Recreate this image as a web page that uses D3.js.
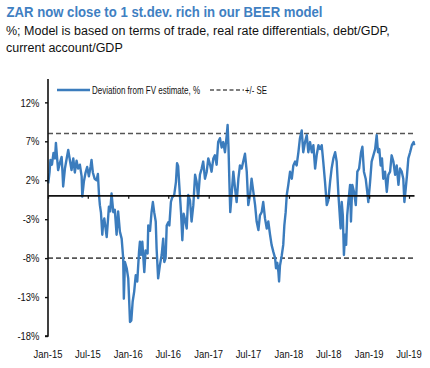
<!DOCTYPE html>
<html>
<head>
<meta charset="utf-8">
<script src="https://cdn.jsdelivr.net/npm/d3@7"></script>
<style>
  body { margin: 0; background: #fff; }
  .title { font-family: "Liberation Sans", Arial, sans-serif; font-weight: bold; font-size: 15.5px; fill: #3f80c2; }
  .subtitle { font-family: "Liberation Sans", Arial, sans-serif; font-size: 12.5px; fill: #111; }
  .axis_text { font-family: "Liberation Sans", Arial, sans-serif; font-size: 11.5px; fill: #111; }
</style>
</head>
<body>
<svg id="chart" width="430" height="368"></svg>
<script>
// values
var obs_dates = [
  "2015-01-02","2015-01-08","2015-01-12","2015-01-19","2015-01-26","2015-02-02","2015-02-06","2015-02-11","2015-02-16","2015-02-24",
  "2015-03-04","2015-03-08","2015-03-11","2015-03-19","2015-03-27","2015-04-03","2015-04-11","2015-04-18","2015-04-26","2015-05-03",
  "2015-05-11","2015-05-18","2015-05-26","2015-06-03","2015-06-06","2015-06-13","2015-06-21","2015-06-28","2015-07-06","2015-07-14",
  "2015-07-18","2015-07-24","2015-08-01","2015-08-10","2015-08-16","2015-08-21","2015-08-25","2015-08-30","2015-09-05","2015-09-09",
  "2015-09-14","2015-09-19","2015-09-25","2015-10-01","2015-10-05","2015-10-11","2015-10-17","2015-10-25","2015-11-01","2015-11-09",
  "2015-11-16","2015-11-24","2015-12-02","2015-12-09","2015-12-12","2015-12-17","2015-12-25","2016-01-01","2016-01-06","2016-01-09",
  "2016-01-15","2016-01-21","2016-01-28","2016-02-04","2016-02-11","2016-02-19","2016-02-23","2016-02-28","2016-03-05","2016-03-14",
  "2016-03-20","2016-03-29","2016-04-01","2016-04-09","2016-04-16","2016-04-22","2016-04-28","2016-05-05","2016-05-09","2016-05-16",
  "2016-05-24","2016-06-01","2016-06-08","2016-06-13","2016-06-19","2016-06-24","2016-07-01","2016-07-06","2016-07-13","2016-07-19",
  "2016-07-28","2016-08-05","2016-08-10","2016-08-15","2016-08-20","2016-08-28","2016-09-03","2016-09-09","2016-09-15","2016-09-23",
  "2016-09-30","2016-10-08","2016-10-15","2016-10-23","2016-10-31","2016-11-07","2016-11-14","2016-11-22","2016-11-30","2016-12-07",
  "2016-12-15","2016-12-23","2016-12-30","2017-01-07","2017-01-14","2017-01-22","2017-01-29","2017-02-06","2017-02-13","2017-02-21",
  "2017-03-01","2017-03-08","2017-03-16","2017-03-24","2017-03-28","2017-04-01","2017-04-05","2017-04-09","2017-04-15","2017-04-23",
  "2017-05-01","2017-05-08","2017-05-16","2017-05-23","2017-05-31","2017-06-07","2017-06-15","2017-06-23","2017-06-30","2017-07-08",
  "2017-07-15","2017-07-23","2017-07-31","2017-08-07","2017-08-15","2017-08-22","2017-08-30","2017-09-06","2017-09-14","2017-09-22",
  "2017-09-29","2017-10-07","2017-10-14","2017-10-22","2017-10-30","2017-11-03","2017-11-09","2017-11-14","2017-11-17","2017-11-21",
  "2017-11-29","2017-12-06","2017-12-11","2017-12-17","2017-12-22","2017-12-29","2018-01-06","2018-01-14","2018-01-21","2018-01-29",
  "2018-02-05","2018-02-13","2018-02-20","2018-02-28","2018-03-07","2018-03-15","2018-03-23","2018-03-30","2018-04-07","2018-04-15",
  "2018-04-22","2018-04-30","2018-05-07","2018-05-15","2018-05-22","2018-05-30","2018-06-06","2018-06-14","2018-06-22","2018-06-29",
  "2018-07-07","2018-07-14","2018-07-22","2018-07-30","2018-08-06","2018-08-14","2018-08-18","2018-08-24","2018-08-29","2018-09-03",
  "2018-09-08","2018-09-13","2018-09-18","2018-09-23","2018-09-28","2018-10-06","2018-10-10","2018-10-16","2018-10-24","2018-11-01",
  "2018-11-08","2018-11-16","2018-11-25","2018-12-01","2018-12-08","2018-12-16","2018-12-23","2018-12-28","2019-01-05","2019-01-12",
  "2019-01-20","2019-01-28","2019-02-04","2019-02-10","2019-02-16","2019-02-22","2019-02-28","2019-03-06","2019-03-14","2019-03-22",
  "2019-03-29","2019-04-06","2019-04-13","2019-04-21","2019-04-29","2019-05-06","2019-05-14","2019-05-21","2019-05-29","2019-06-05",
  "2019-06-10","2019-06-16","2019-06-22","2019-06-28","2019-07-06","2019-07-14","2019-07-22","2019-07-25"
];
var deviation = [
  1.6, 3.0, 4.6, 4.0, 5.5, 4.8, 6.8, 5.0, 3.3, 4.2,
  5.0, 3.0, 1.2, 3.5, 4.8, 5.9, 4.5, 3.3, 4.8, 3.0,
  4.5, 3.5, 4.0, 2.5, -0.1, 1.8, 3.0, 3.7, 2.5, 3.8,
  4.6, 3.0, 2.2, 2.0, 2.8, 0.1, -1.2, -2.2, -5.0, -3.5,
  -2.9, -4.0, -5.3, -3.0, -1.4, -2.0, 0.3, -2.1, -1.8, -5.0,
  -2.0, -4.6, -5.5, -8.0, -13.2, -8.5, -9.3, -10.6, -14.0, -16.2,
  -16.0, -13.6, -12.3, -10.2, -11.0, -7.2, -5.9, -7.6, -5.9, -9.8,
  -7.0, -7.4, -3.8, -4.5, -2.1, -0.8, -2.1, -3.3, -6.8, -10.6,
  -8.9, -7.6, -5.5, -8.5, -8.0, -3.8, -3.4, -3.8, -0.8, -0.2,
  0.1, 1.8, 4.2, 3.8, 1.4, -2.1, -5.7, -2.3, -3.0, -4.2,
  0.1, -0.6, -3.3, -1.2, 2.7, 1.8, -0.3, 2.7, 3.5, 4.4,
  2.2, 3.1, 4.8, 4.0, 3.1, 4.8, 5.2, 4.0, 6.9, 7.4,
  6.2, 6.9, 5.6, 7.8, 9.1, 6.2, 1.8, -2.1, 0.1, 3.1,
  0.9, -0.8, 2.2, 3.9, 3.5, 4.4, 5.4, 3.1, -1.2, 0.1,
  2.2, 0.5, -1.2, -3.3, -4.4, -2.5, -2.1, -0.8, -2.9, -4.2,
  -3.3, -5.0, -6.3, -7.2, -8.0, -9.3, -8.6, -9.8, -11.0, -9.0,
  -7.7, -6.3, -3.8, -2.1, 0.1, 1.4, 3.1, 2.2, 3.9, 4.4,
  3.9, 5.6, 7.4, 8.4, 5.6, 6.9, 7.8, 5.6, 6.9, 5.6,
  6.5, 3.5, 5.2, 6.5, 6.0, 6.5, 4.4, 1.8, -1.2, -0.6,
  1.8, 3.5, 4.8, 5.6, 4.4, 0.1, -1.6, -4.2, -0.8, -2.5,
  -7.6, -5.0, -6.3, -2.5, -0.8, 1.4, -3.3, 1.4, 0.5, -1.2,
  3.1, 3.5, 5.6, 6.3, 3.1, 2.2, 0.5, -0.8, 1.8, 4.4,
  5.2, 6.0, 7.8, 5.6, 6.0, 3.9, 4.8, 2.2, 3.1, 0.5,
  2.7, 3.1, 5.2, 4.4, 2.7, 3.9, 1.4, 3.5, 3.1, 2.2,
  -0.8, 0.9, 2.7, 4.8, 5.6, 6.5, 6.9, 6.5
];
var se_band = [8, -8];
var y_ticks = [12, 7, 2, -3, -8, -13, -18];
var x_tick_dates = ["2015-01-01","2015-07-01","2016-01-01","2016-07-01","2017-01-01","2017-07-01",
                    "2018-01-01","2018-07-01","2019-01-01","2019-07-01"];
var x_domain = ["2015-01-01", "2019-07-26"];
var y_domain = [-18, 15];

var line_color = "#3b7cbd";
var dash_color = "#555555";
var narrow = 0.82; // reference uses a condensed face

var parseDate = d3.timeParse("%Y-%m-%d");
var fmtTick = d3.timeFormat("%b-%y");

var data = obs_dates.map(function(d, i) {
  return { date: parseDate(d), value: deviation[i] };
});

var svg = d3.select("#chart");
var margin = { top: 79, left: 48, right: 15, bottom: 32 };
var w_svg = 430, h_svg = 368;

var x = d3.scaleTime()
          .domain(x_domain.map(parseDate))
          .range([margin.left, w_svg - 15.5]);
var y = d3.scaleLinear()
          .domain(y_domain)
          .range([336, margin.top]);

// squeeze a text element horizontally
function condense(sel, factor) {
  sel.each(function() {
    var w = this.getComputedTextLength();
    d3.select(this)
      .attr("textLength", w * factor)
      .attr("lengthAdjust", "spacingAndGlyphs");
  });
}

// titles
svg.append("text")
   .attr("class", "title")
   .attr("x", 6.5)
   .attr("y", 17)
   .attr("textLength", 316)
   .attr("lengthAdjust", "spacingAndGlyphs")
   .text("ZAR now close to 1 st.dev. rich in our BEER model");
svg.append("text")
   .attr("class", "subtitle")
   .attr("x", 6)
   .attr("y", 34.5)
   .text("%; Model is based on terms of trade, real rate differentials, debt/GDP,");
svg.append("text")
   .attr("class", "subtitle")
   .attr("x", 6)
   .attr("y", 52)
   .text("current account/GDP");

// +/- SE dashed lines
svg.selectAll(".se_line")
   .data(se_band)
   .enter()
   .append("line")
   .attr("class", "se_line")
   .attr("x1", x.range()[0])
   .attr("x2", x.range()[1])
   .attr("y1", function(d) { return y(d); })
   .attr("y2", function(d) { return y(d); })
   .style("stroke", dash_color)
   .style("stroke-width", 1.6)
   .style("stroke-dasharray", "5,3");

// series
var line = d3.line()
             .x(function(d) { return x(d.date); })
             .y(function(d) { return y(d.value); });
svg.append("path")
   .datum(data)
   .attr("d", line)
   .style("fill", "none")
   .style("stroke", line_color)
   .style("stroke-width", 2.4)
   .style("stroke-linejoin", "round");

// y axis
var yAxis = d3.axisLeft(y)
              .tickValues(y_ticks)
              .tickSize(3)
              .tickPadding(5.5)
              .tickFormat(function(d) { return d + "%"; });
var gy = svg.append("g")
            .attr("transform", "translate(" + margin.left + ",0)")
            .call(yAxis);
gy.attr("font-family", null).attr("font-size", null);
gy.select(".domain").attr("d", "M-3," + y(-18) + "H0V" + y(15)).style("stroke", "#111").style("stroke-width", 1.6);
gy.selectAll(".tick line").style("stroke", "#111").style("stroke-width", 1.4);
gy.selectAll(".tick text").attr("class", "axis_text").call(condense, narrow);

// x axis on the zero line, labels at the bottom
var xAxis = d3.axisBottom(x)
              .tickValues(x_tick_dates.map(parseDate))
              .tickSize(3)
              .tickFormat("");
var gx = svg.append("g")
            .attr("transform", "translate(0," + y(0) + ")")
            .call(xAxis);
gx.select(".domain").attr("d", "M" + x.range()[0] + ",0H" + x.range()[1]).style("stroke", "#111").style("stroke-width", 1.8);
gx.selectAll(".tick line").style("stroke", "#111").style("stroke-width", 1.2);

svg.selectAll(".x_label")
   .data(x_tick_dates)
   .enter()
   .append("text")
   .attr("class", "axis_text")
   .attr("x", function(d) { return x(parseDate(d)); })
   .attr("y", 358)
   .attr("text-anchor", "middle")
   .text(function(d) { return fmtTick(parseDate(d)); })
   .call(condense, narrow);

// legend
var legend = svg.append("g").attr("transform", "translate(0,90)");
legend.append("line")
      .attr("x1", 57).attr("x2", 90).attr("y1", 0).attr("y2", 0)
      .style("stroke", line_color).style("stroke-width", 2.4);
legend.append("text")
      .attr("class", "axis_text")
      .attr("x", 92).attr("y", 4)
      .attr("textLength", 108)
      .attr("lengthAdjust", "spacingAndGlyphs")
      .text("Deviation from FV estimate, %");
legend.append("line")
      .attr("x1", 210).attr("x2", 244).attr("y1", 0).attr("y2", 0)
      .style("stroke", dash_color).style("stroke-width", 1.6)
      .style("stroke-dasharray", "4,2.5");
legend.append("text")
      .attr("class", "axis_text")
      .attr("x", 245).attr("y", 4)
      .attr("textLength", 22)
      .attr("lengthAdjust", "spacingAndGlyphs")
      .text("+/- SE");
</script>
</body>
</html>
